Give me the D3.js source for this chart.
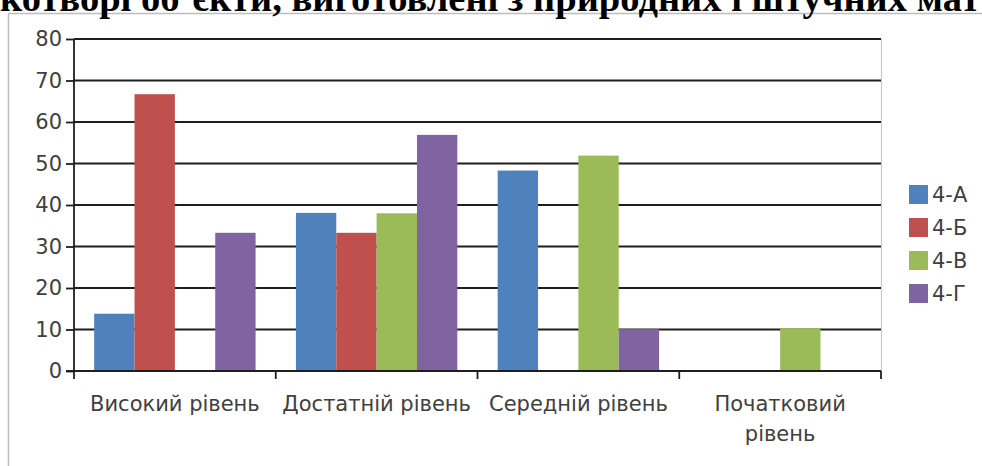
<!DOCTYPE html>
<html>
<head>
<meta charset="utf-8">
<script src="https://cdn.jsdelivr.net/npm/d3@7"></script>
<style>
  body { margin: 0; background: #fff; }
  svg { display: block; }
</style>
</head>
<body>
<div id="chart"></div>
<script>
// data
var categories = ["Високий рівень", "Достатній рівень", "Середній рівень", "Початковий рівень"];
var catLines = [["Високий рівень"], ["Достатній рівень"], ["Середній рівень"], ["Початковий", "рівень"]];
var seriesNames = ["4-А", "4-Б", "4-В", "4-Г"];
var valsA = [13.8, 38.1, 48.3, 0];
var valsB = [66.7, 33.3, 0, 0];
var valsV = [0, 38, 51.9, 10.3];
var valsG = [33.3, 56.9, 10.1, 0];
var yTicks = [0, 10, 20, 30, 40, 50, 60, 70, 80];
var titleText = "котворі об’єкти, виготовлені з природних і штучних мат";

var W = 982, H = 466;
var plot = { left: 74, right: 881, top: 39, bottom: 371 };
var labelFont = "'DejaVu Sans', sans-serif";
var labelSize = "21px";

var svg = d3.select("#chart").append("svg")
  .attr("width", W)
  .attr("height", H);

// outer chart frame
svg.append("path")
  .attr("d", "M8.5," + H + "V13.5H" + W)
  .attr("fill", "none")
  .attr("stroke", "#bdbdbd")
  .attr("stroke-width", 1.5);

// clipped title from the page above
var title = svg.append("text")
  .attr("x", 0)
  .attr("y", 11)
  .style("font-family", "'Liberation Serif', 'Times New Roman', serif")
  .style("font-weight", "bold")
  .style("font-size", "30px")
  .attr("fill", "#000")
  .text(titleText);
var tl = title.node().getComputedTextLength();
title.style("font-size", (30 * 980 / tl) + "px");

var dataset = seriesNames.map(function (s, i) {
  return { key: s, values: [valsA, valsB, valsV, valsG][i] };
});

var color = d3.scaleOrdinal()
  .domain(seriesNames)
  .range(["#4f81bd", "#c0504d", "#9bbb59", "#8064a2"]);

var x0 = d3.scaleBand()
  .domain(categories)
  .range([plot.left, plot.right]);
var bw = x0.bandwidth();
var x1 = d3.scaleBand()
  .domain(seriesNames)
  .range([bw * 0.1, bw * 0.9]);

var y = d3.scaleLinear()
  .domain([0, 80])
  .range([plot.bottom, plot.top]);

// right plot border
svg.append("line")
  .attr("x1", plot.right + 0.5).attr("x2", plot.right + 0.5)
  .attr("y1", plot.top).attr("y2", plot.bottom)
  .attr("stroke", "#c8c8c8")
  .attr("stroke-width", 1.2);

// gridlines
svg.append("g")
  .selectAll("line")
  .data(yTicks.filter(function (d) { return d > 0; }))
  .enter()
  .append("line")
  .attr("x1", plot.left)
  .attr("x2", plot.right)
  .attr("y1", function (d) { return y(d); })
  .attr("y2", function (d) { return y(d); })
  .attr("stroke", "#1e1e1e")
  .attr("stroke-width", 1.8);

// bars
svg.append("g")
  .selectAll("g")
  .data(dataset)
  .enter()
  .append("g")
  .attr("fill", function (d) { return color(d.key); })
  .selectAll("rect")
  .data(function (d) {
    return d.values.map(function (v, i) { return { key: d.key, cat: categories[i], value: v }; });
  })
  .enter()
  .append("rect")
  .attr("x", function (d) { return x0(d.cat) + x1(d.key); })
  .attr("width", x1.bandwidth())
  .attr("y", function (d) { return y(d.value); })
  .attr("height", function (d) { return y(0) - y(d.value); });

// y axis
var yAxis = svg.append("g")
  .attr("transform", "translate(" + plot.left + ",0)")
  .call(d3.axisLeft(y).tickValues(yTicks).tickSize(8).tickPadding(4));
yAxis.select(".domain").attr("stroke", "#1e1e1e").attr("stroke-width", 1.8)
  .attr("d", "M0," + plot.top + "V" + plot.bottom);
yAxis.selectAll(".tick line").attr("stroke", "#1e1e1e").attr("stroke-width", 1.8);
yAxis.selectAll(".tick text")
  .attr("fill", "#404040")
  .style("font-family", labelFont)
  .style("font-size", labelSize);

// x axis line and boundary ticks
svg.append("line")
  .attr("x1", plot.left - 8).attr("x2", plot.right)
  .attr("y1", y(0)).attr("y2", y(0))
  .attr("stroke", "#1e1e1e")
  .attr("stroke-width", 1.8);
var bounds = categories.map(function (c) { return x0(c); }).concat([plot.right]);
svg.append("g")
  .selectAll("line")
  .data(bounds)
  .enter()
  .append("line")
  .attr("x1", function (d) { return d; })
  .attr("x2", function (d) { return d; })
  .attr("y1", y(0))
  .attr("y2", y(0) + 8)
  .attr("stroke", "#1e1e1e")
  .attr("stroke-width", 1.8);

// category labels
svg.append("g")
  .selectAll("text")
  .data(categories)
  .enter()
  .append("text")
  .attr("x", function (d) { return x0(d) + bw / 2; })
  .attr("y", 411)
  .attr("text-anchor", "middle")
  .attr("fill", "#404040")
  .style("font-family", labelFont)
  .style("font-size", labelSize)
  .each(function (d, i) {
    var t = d3.select(this);
    catLines[i].forEach(function (line, j) {
      t.append("tspan")
        .attr("x", x0(d) + bw / 2)
        .attr("dy", j === 0 ? 0 : 30)
        .text(line);
    });
  });

// legend
var legend = svg.append("g")
  .selectAll("g")
  .data(seriesNames)
  .enter()
  .append("g")
  .attr("transform", function (d, i) { return "translate(909," + (185 + i * 33) + ")"; });
legend.append("rect")
  .attr("width", 19)
  .attr("height", 19)
  .attr("fill", function (d) { return color(d); });
legend.append("text")
  .attr("x", 23)
  .attr("y", 10)
  .attr("dy", "0.35em")
  .attr("fill", "#404040")
  .style("font-family", labelFont)
  .style("font-size", labelSize)
  .text(function (d) { return d; });
</script>
</body>
</html>
